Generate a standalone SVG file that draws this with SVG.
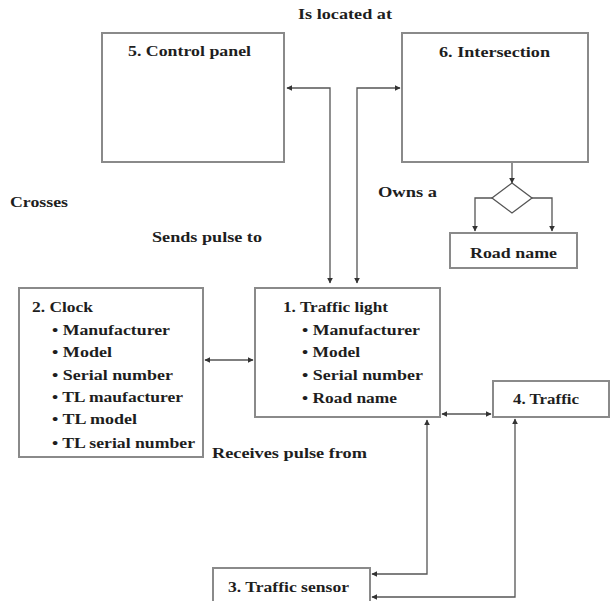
<svg xmlns="http://www.w3.org/2000/svg" width="611" height="601" viewBox="0 0 611 601">
<style>
.box{fill:#fff;stroke:#8a8a8a;stroke-width:2}
.t{font-family:"Liberation Serif","Times New Roman",serif;font-weight:bold;font-size:15px;fill:#1e1e1e}
.c{fill:none;stroke:#555;stroke-width:1.3}
</style>
<defs>
<marker id="ah" viewBox="0 0 10 10" refX="9" refY="5" markerWidth="6" markerHeight="6" orient="auto-start-reverse" markerUnits="userSpaceOnUse">
<path d="M0,0 L10,5 L0,10 z" fill="#333"/>
</marker>
</defs>
<rect width="611" height="601" fill="#fff"/>
<g id="labels">
<text class="t" x="298" y="19" textLength="94" lengthAdjust="spacingAndGlyphs">Is located at</text>
<text class="t" x="378" y="197" textLength="59" lengthAdjust="spacingAndGlyphs">Owns a</text>
<text class="t" x="10" y="207" textLength="58" lengthAdjust="spacingAndGlyphs">Crosses</text>
<text class="t" x="152" y="242" textLength="110" lengthAdjust="spacingAndGlyphs">Sends pulse to</text>
<text class="t" x="212" y="458" textLength="155" lengthAdjust="spacingAndGlyphs">Receives pulse from</text>
</g>
<g id="connectors">
<path class="c" d="M330,283 V88 H287" marker-start="url(#ah)" marker-end="url(#ah)"/>
<path class="c" d="M357,283 V88 H400" marker-start="url(#ah)" marker-end="url(#ah)"/>
<path class="c" d="M512,163 V183" marker-end="url(#ah)"/>
<path class="c" d="M492,198 H475 V231" marker-end="url(#ah)"/>
<path class="c" d="M532,198 H552 V231" marker-end="url(#ah)"/>
<path class="c" d="M205,360 H253" marker-start="url(#ah)" marker-end="url(#ah)"/>
<path class="c" d="M442,414 H491" marker-start="url(#ah)" marker-end="url(#ah)"/>
<path class="c" d="M427,420 V574 H372" marker-start="url(#ah)" marker-end="url(#ah)"/>
<path class="c" d="M515,419 V597 H372" marker-start="url(#ah)" marker-end="url(#ah)"/>
</g>
<g id="control-panel">
<rect class="box" x="102" y="33" width="182" height="129"/>
<text class="t" x="128" y="56" textLength="123" lengthAdjust="spacingAndGlyphs">5. Control panel</text>
</g>
<g id="intersection">
<rect class="box" x="402" y="33" width="186" height="129"/>
<text class="t" x="439" y="57" textLength="111" lengthAdjust="spacingAndGlyphs">6. Intersection</text>
</g>
<g id="decision">
<polygon points="512,183 532,198 512,213 492,198" fill="#fff" stroke="#555" stroke-width="1.3"/>
</g>
<g id="road-name">
<rect class="box" x="450" y="233" width="127" height="35"/>
<text class="t" x="470" y="258" textLength="87" lengthAdjust="spacingAndGlyphs">Road name</text>
</g>
<g id="clock">
<rect class="box" x="19" y="288" width="184" height="169"/>
<text class="t" x="32" y="312" textLength="61" lengthAdjust="spacingAndGlyphs">2. Clock</text>
<text class="t" x="52" y="335" textLength="118" lengthAdjust="spacingAndGlyphs">• Manufacturer</text>
<text class="t" x="52" y="357" textLength="60" lengthAdjust="spacingAndGlyphs">• Model</text>
<text class="t" x="52" y="380" textLength="121" lengthAdjust="spacingAndGlyphs">• Serial number</text>
<text class="t" x="52" y="402" textLength="131" lengthAdjust="spacingAndGlyphs">• TL maufacturer</text>
<text class="t" x="52" y="424" textLength="85" lengthAdjust="spacingAndGlyphs">• TL model</text>
<text class="t" x="52" y="448" textLength="143" lengthAdjust="spacingAndGlyphs">• TL serial number</text>
</g>
<g id="traffic-light">
<rect class="box" x="255" y="288" width="185" height="129"/>
<text class="t" x="283" y="312" textLength="105" lengthAdjust="spacingAndGlyphs">1. Traffic light</text>
<text class="t" x="302" y="335" textLength="118" lengthAdjust="spacingAndGlyphs">• Manufacturer</text>
<text class="t" x="302" y="357" textLength="58" lengthAdjust="spacingAndGlyphs">• Model</text>
<text class="t" x="302" y="380" textLength="121" lengthAdjust="spacingAndGlyphs">• Serial number</text>
<text class="t" x="302" y="403" textLength="95" lengthAdjust="spacingAndGlyphs">• Road name</text>
</g>
<g id="traffic">
<rect class="box" x="493" y="381" width="116" height="36"/>
<text class="t" x="513" y="404" textLength="66" lengthAdjust="spacingAndGlyphs">4. Traffic</text>
</g>
<g id="traffic-sensor">
<rect class="box" x="213" y="568" width="157" height="40"/>
<text class="t" x="228" y="592" textLength="121" lengthAdjust="spacingAndGlyphs">3. Traffic sensor</text>
</g>
</svg>
